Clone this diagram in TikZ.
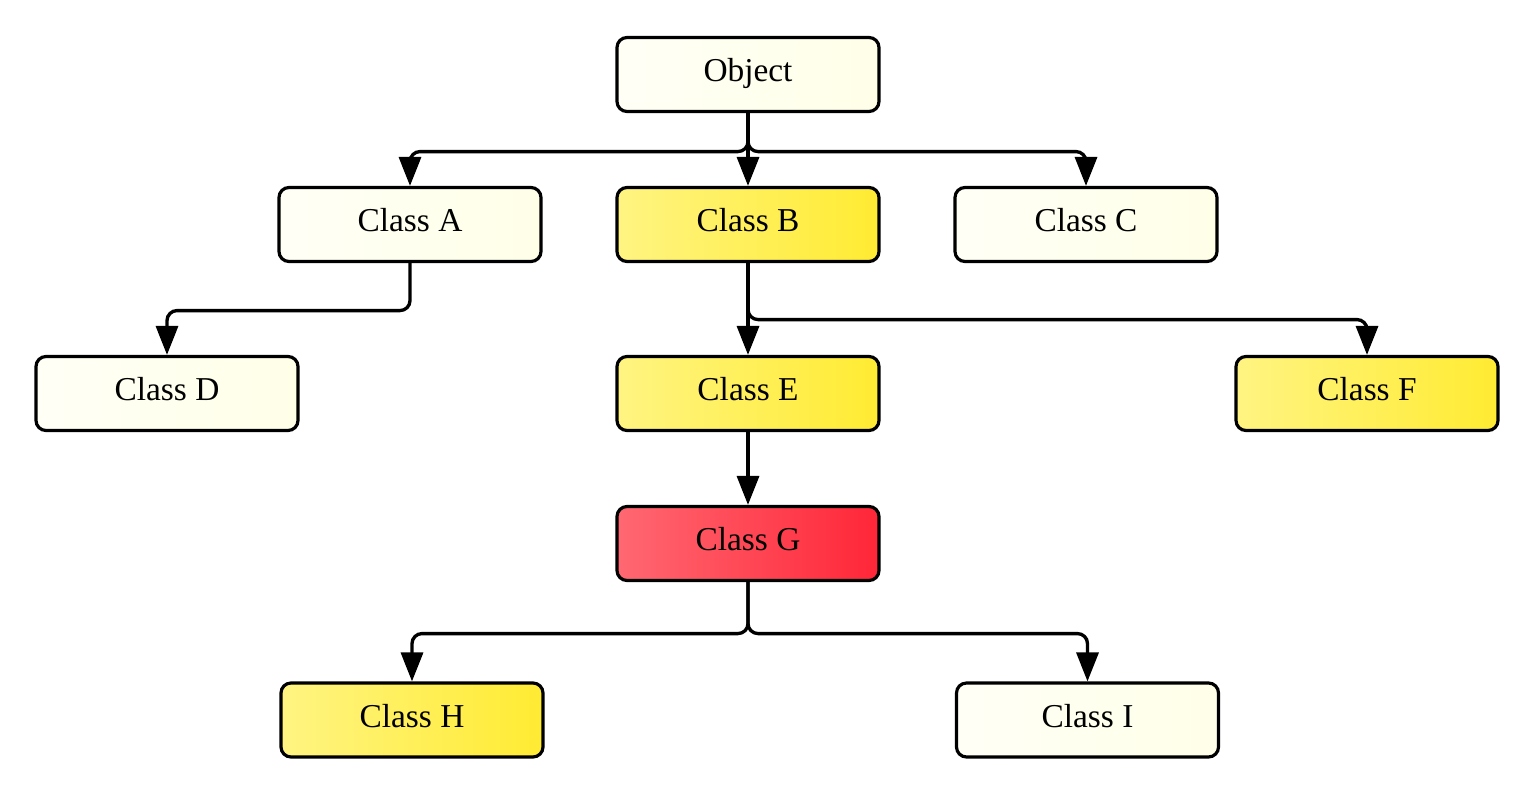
\documentclass[tikz,border=0pt]{standalone}
\usepackage{fontspec}
\setmainfont{Liberation Serif}
\usetikzlibrary{arrows.meta}
\definecolor{creamL}{RGB}{255,255,246}
\definecolor{creamR}{RGB}{255,255,232}
\definecolor{yellowL}{RGB}{255,244,130}
\definecolor{yellowR}{RGB}{255,235,50}
\definecolor{redL}{RGB}{255,104,114}
\definecolor{redR}{RGB}{255,38,56}
\tikzset{
  classbox/.style={draw=black, line width=1.8pt, rounded corners=0.2cm,
    minimum width=5.24cm, minimum height=1.48cm, inner sep=0pt,
    text height=13pt, text depth=5pt,
    font=\fontsize{19}{23}\selectfont},
  plainclass/.style={classbox, left color=creamL, right color=creamR},
  markedclass/.style={classbox, left color=yellowL, right color=yellowR},
  targetclass/.style={classbox, left color=redL, right color=redR},
  conn/.style={line width=1.9pt, rounded corners=0.2cm,
    -{Triangle[length=0.58cm,width=0.44cm]}}
}
\begin{document}
\begin{tikzpicture}
            \useasboundingbox (0.000000,0.000000) rectangle (30.480000,-15.760000);
            
            % Drawing class nodes
            \node [plainclass] (obj) at (14.960000,-1.490000) {Object};%
            \node [plainclass] (a) at (8.200000,-4.490000) {Class A};%
            \node [markedclass] (b) at (14.960000,-4.490000) {Class B};%
            \node [plainclass] (c) at (21.720000,-4.490000) {Class C};%
            \node [plainclass] (d) at (3.340000,-7.870000) {Class D};%
            \node [markedclass] (e) at (14.960000,-7.870000) {Class E};%
            \node [markedclass] (f) at (27.340000,-7.870000) {Class F};%
            \node [targetclass] (g) at (14.960000,-10.870000) {Class G};%
            \node [markedclass] (h) at (8.240000,-14.400000) {Class H};%
            \node [plainclass] (i) at (21.750000,-14.400000) {Class I};%
            
            % Drawing inheritance arrows from Object
            \draw [conn] (obj.south) -- ++(0,-0.770000) -| (a.north);%
            \draw [conn] (obj.south) -- (b.north);%
            \draw [conn] (obj.south) -- ++(0,-0.770000) -| (c.north);%
            
            % Drawing arrows from A and B
            \draw [conn] (a.south) -- ++(0,-0.950000) -| (d.north);%
            \draw [conn] (b.south) -- (e.north);%
            \draw [conn] (b.south) -- ++(0,-1.130000) -| (f.north);%
            
            % Drawing arrows from E and G
            \draw [conn] (e.south) -- (g.north);%
            \draw [conn] (g.south) -- ++(0,-1.030000) -| (h.north);%
            \draw [conn] (g.south) -- ++(0,-1.030000) -| (i.north);%
\end{tikzpicture}
\end{document}
